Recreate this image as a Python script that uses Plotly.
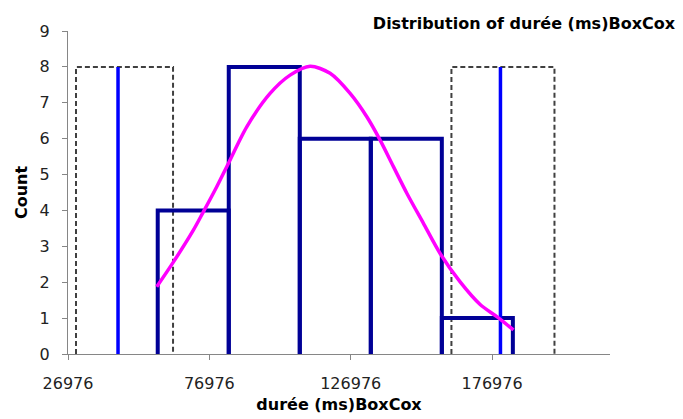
import plotly.graph_objects as go

# Histogram bins (edges) and counts
bin_edges = [58717, 83841, 108965, 134089, 159213, 184337]
counts = [4, 8, 6, 6, 1]

# Dashed boxes (left/right limits) and blue marker lines
box_left = [29807, 64131]
box_right = [162609, 199057]
box_height = 8
blue_lines = [44669, 179948]

# Fitted curve points
curve_x = [58363, 64238, 71316, 74853, 79595, 83700, 90211, 98456, 105533, 112610,
           119687, 126765, 132674, 137380, 142087, 146829, 152703, 158612, 165689,
           172766, 178676, 184550]
curve_y = [1.875, 2.56, 3.45, 3.96, 4.66, 5.31, 6.33, 7.26, 7.77, 8.02,
           7.82, 7.26, 6.61, 5.96, 5.22, 4.48, 3.64, 2.80, 2.01,
           1.38, 1.04, 0.67]

x_ticks = [26976, 76976, 126976, 176976]
x_range = [26976, 218700]
y_range = [0, 9]

NAVY = "#000096"
fig = go.Figure()

# dashed boxes
for (l, r) in (box_left, box_right):
    fig.add_trace(go.Scatter(x=[l, l, r, r], y=[0, box_height, box_height, 0],
                             mode="lines", line=dict(color="#404040", width=2, dash="5px,3px"),
                             hoverinfo="skip", showlegend=False))

# histogram outlines
for i, c in enumerate(counts):
    l, r = bin_edges[i], bin_edges[i + 1]
    fig.add_trace(go.Scatter(x=[l, l, r, r], y=[0, c, c, 0], mode="lines",
                             line=dict(color=NAVY, width=4), showlegend=False))

# blue lines
for bx in blue_lines:
    fig.add_trace(go.Scatter(x=[bx, bx], y=[0, box_height], mode="lines",
                             line=dict(color="#0000FF", width=3.5), showlegend=False))

# curve
fig.add_trace(go.Scatter(x=curve_x, y=curve_y, mode="lines", line_shape="spline",
                         line=dict(color="#FF00FF", width=3.5, smoothing=0.8), showlegend=False))

fig.update_layout(
    width=683, height=419,
    margin=dict(l=68, r=73, t=31, b=65),
    paper_bgcolor="white", plot_bgcolor="white",
    font=dict(family="DejaVu Sans", size=16, color="#222222"),
    title=dict(text="<b>Distribution of durée (ms)BoxCox</b>",
               font=dict(family="DejaVu Sans", size=16, color="black"),
               x=675 / 683, xanchor="right", xref="container",
               y=1 - 23 / 419, yanchor="middle", yref="container"),
    xaxis=dict(range=x_range, tickmode="array", tickvals=x_ticks, tickformat="d",
               showgrid=False, zeroline=False, showline=True, linecolor="#868686", linewidth=1,
               ticks="outside", ticklen=5, tickcolor="#868686", automargin=False,
               ticklabelstandoff=10,
               tickfont=dict(size=16, color="#222222"),
               title=dict(text="<b>durée (ms)BoxCox</b>", font=dict(size=16, color="black"), standoff=6)),
    yaxis=dict(range=y_range, dtick=1, showgrid=False, zeroline=False, showline=True,
               linecolor="#868686", linewidth=1, ticks="outside", ticklen=5, tickcolor="#868686",
               tickfont=dict(size=16, color="#222222"), automargin=False,
               ticklabelstandoff=9,
               title=dict(text="<b>Count</b>", font=dict(size=16, color="black"), standoff=8)),
)

fig.write_html("out.html", post_script="document.body.style.margin='0';",
               config={"displayModeBar": False})
